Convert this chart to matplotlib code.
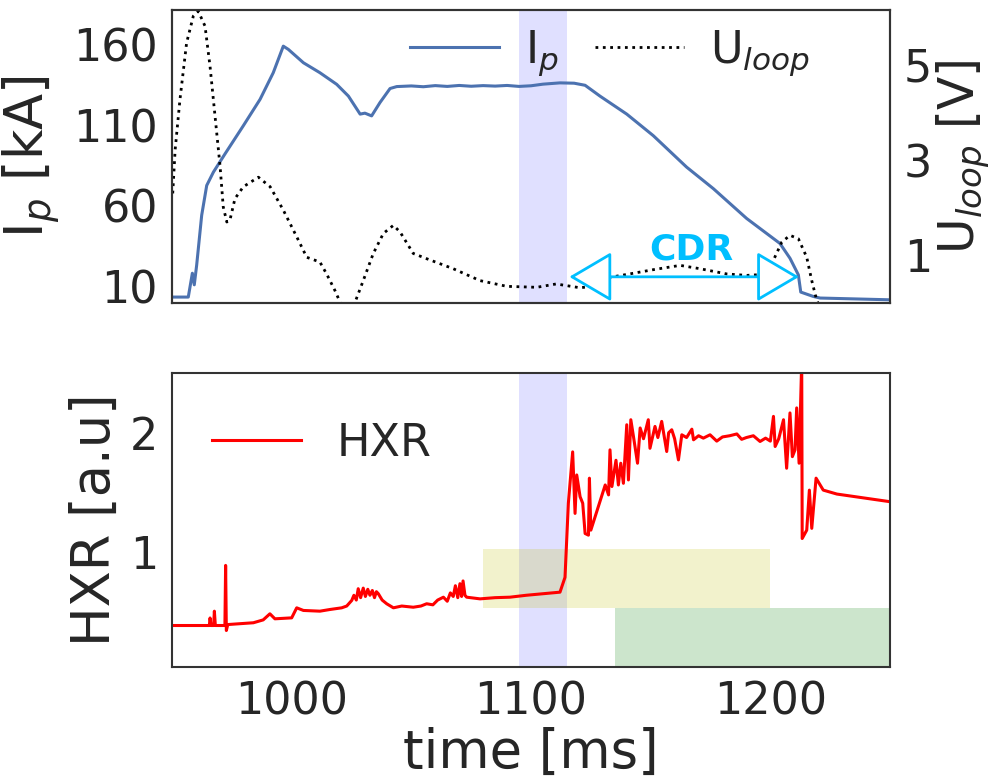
import numpy as np
import matplotlib.pyplot as plt

# plasma current I_p [kA]
t_ip = [950.3, 956.8, 958.5, 959.3, 960.3, 962.4, 964.5, 967.3, 972.1, 979.8,
        986.8, 992.3, 996.5, 998.6, 1004.9, 1011.8, 1018.8, 1023.7, 1028.6, 1030.6,
        1033.4, 1036.9, 1041.1, 1043.9, 1050, 1055, 1060, 1065, 1070, 1075,
        1080, 1085, 1090, 1095, 1100, 1105, 1112.1, 1118, 1122.6, 1128.8,
        1140, 1151.1, 1165, 1176.2, 1190.1, 1204, 1208.2, 1211.7, 1212.7, 1217.9,
        1220.8, 1250]
ip = [3.2, 3.2, 18, 10.8, 23, 54, 72.5, 80.8, 92, 109.6,
      126, 142.5, 159, 157, 148.7, 142.5, 135.3, 128, 116.8, 117.4,
      115.7, 124, 132.7, 133.9, 134.3, 133.8, 134.5, 134.0, 134.6, 134.1,
      134.5, 134.2, 134.6, 134.0, 134.4, 135.4, 136.2, 136.0, 134.7, 128,
      116.8, 103.4, 83.9, 70.5, 52, 36.5, 27.3, 17, 6.3, 3.6,
      2.6, 1.5]

# loop voltage U_loop [V]
t_u = [950.3, 951.3, 953.3, 956.1, 958.9, 961.0, 963.8, 965.9, 968.0, 970.1,
       971.4, 972.9, 974.2, 976.3, 979.8, 986.1, 991.0, 996.5, 1002.1, 1006.3,
       1011.8, 1014.6, 1018.1, 1020.2, 1022.5, 1026.5, 1029.9, 1034.1, 1038.3, 1042.5,
       1045.3, 1050.8, 1056.4, 1067.5, 1078.7, 1089.9, 1102.4, 1110.5, 1120.5, 1128.8,
       1133.0, 1140.0, 1151.1, 1162.3, 1170.6, 1181.8, 1190.1, 1197.1, 1201.2, 1204.8,
       1208.2, 1211.7, 1215.2, 1217.3, 1219.4, 1221.0]
u_loop = [2.30, 3.21, 4.26, 5.46, 6.02, 6.12, 5.81, 4.96, 3.91, 2.86,
          2.02, 1.70, 1.74, 2.19, 2.44, 2.64, 2.44, 1.95, 1.39, 0.96,
          0.86, 0.61, 0.26, 0.02, -0.3, 0.02, 0.47, 1.04, 1.46, 1.63,
          1.49, 1.04, 0.93, 0.72, 0.47, 0.35, 0.33, 0.40, 0.32, 0.37,
          0.54, 0.60, 0.70, 0.79, 0.72, 0.61, 0.58, 0.60, 0.89, 1.28,
          1.42, 1.35, 0.96, 0.47, 0.05, -0.1]

# hard x-ray signal [a.u]
t_hxr = [950.3, 965.6, 965.9, 966.3, 967.4, 967.7, 968.1, 972.1, 972.4, 972.7,
         973.3, 984.0, 988.1, 990.9, 993.0, 1000.0, 1002.1, 1004.9, 1011.8, 1016.0,
         1020.9, 1023.0, 1025.1, 1026.0, 1027.0, 1027.8, 1028.8, 1029.9, 1030.8, 1031.8,
         1032.7, 1033.7, 1034.6, 1035.4, 1036.2, 1037.8, 1039.7, 1042.5, 1046.0, 1050.8,
         1054.0, 1056.4, 1059.0, 1061.0, 1063.4, 1065.0, 1066.3, 1067.5, 1068.4, 1069.4,
         1070.3, 1071.0, 1071.6, 1072.4, 1073.1, 1078.7, 1085.0, 1091.2, 1098.0, 1105.1,
         1112.1, 1114.2, 1115.6, 1117.4, 1118.4, 1119.1, 1120.5, 1121.6, 1122.6, 1124.0,
         1124.4, 1125.0, 1131.0, 1132.4, 1133.0, 1133.8, 1135.5, 1136.5, 1137.5, 1138.6,
         1140.0, 1140.7, 1141.7, 1142.8, 1144.5, 1145.6, 1147.0, 1149.0, 1149.7, 1151.8,
         1153.0, 1154.6, 1156.7, 1157.5, 1158.8, 1160.0, 1161.6, 1163.0, 1165.0, 1167.2,
         1167.9, 1170.0, 1172.0, 1174.8, 1177.6, 1180.0, 1183.0, 1186.0, 1188.0, 1190.0,
         1192.9, 1195.7, 1198.0, 1200.0, 1201.3, 1202.0, 1203.5, 1205.5, 1206.8, 1208.2,
         1209.2, 1210.3, 1211.0, 1212.0, 1213.1, 1213.3, 1215.2, 1216.3, 1217.3, 1219.1,
         1222.1, 1227.8, 1250.0]
hxr = [0.387, 0.387, 0.45, 0.387, 0.387, 0.507, 0.387, 0.387, 0.89, 0.345,
       0.395, 0.41, 0.434, 0.485, 0.443, 0.451, 0.535, 0.513, 0.507, 0.521,
       0.535, 0.55, 0.597, 0.64, 0.60, 0.695, 0.62, 0.70, 0.63, 0.69,
       0.64, 0.68, 0.62, 0.67, 0.653, 0.60, 0.569, 0.535, 0.55, 0.54,
       0.55, 0.569, 0.56, 0.60, 0.624, 0.59, 0.66, 0.63, 0.72, 0.62,
       0.737, 0.63, 0.76, 0.64, 0.624, 0.61, 0.62, 0.624, 0.64, 0.653,
       0.666, 0.79, 1.41, 1.84, 1.325, 1.647, 1.465, 1.41, 1.157, 1.143,
       1.62, 1.185, 1.563, 1.48, 1.857, 1.55, 1.77, 1.563, 1.745, 1.577,
       2.067, 1.605, 2.109, 1.969, 1.745, 2.04, 1.95, 2.109, 1.87, 2.053,
       1.96, 2.095, 1.843, 2.0, 2.025, 1.95, 1.773, 1.983, 1.96, 2.03,
       1.941, 1.975, 1.955, 1.983, 1.93, 1.965, 1.975, 1.99, 1.945, 1.96,
       1.975, 1.927, 1.955, 1.93, 2.137, 1.885, 1.95, 2.109, 1.703, 2.166,
       1.80, 1.857, 2.208, 1.745, 2.6, 1.115, 1.185, 1.52, 1.2, 1.62,
       1.52, 1.487, 1.423]

blue_span = (1095, 1115)
yellow_span = (1080, 1200)
green_span = (1135, 1250)
cdr_span = (1116, 1212)

plt.rcParams['font.family'] = 'DejaVu Sans'
plt.rcParams['text.color'] = '#262626'
plt.rcParams['axes.labelcolor'] = '#262626'
plt.rcParams['xtick.color'] = '#262626'
plt.rcParams['ytick.color'] = '#262626'

fig = plt.figure(figsize=(9.96, 7.81), dpi=100)
ax = fig.add_axes([0.1727, 0.612, 0.7209, 0.3753])
ax2 = ax.twinx()
ax3 = fig.add_axes([0.1727, 0.146, 0.7209, 0.3764])

l1, = ax.plot(t_ip, ip, color='#4C72B0', lw=2.2, label='I$_p$')
l2, = ax2.plot(t_u, u_loop, 'k:', lw=2, label='U$_{loop}$')
ax.axvspan(*blue_span, color='b', alpha=0.12, lw=0)
ax.set_xlim(950, 1250)
ax.set_ylim(-0.5, 181.5)
ax2.set_ylim(0, 6.15)
ax.set_yticks([10, 60, 110, 160])
ax2.set_yticks([1, 3, 5])
ax.set_xticks([])
ax.set_ylabel('I$_p$ [kA]', fontsize=38)
ax2.set_ylabel('U$_{loop}$ [V]', fontsize=35)
ax.yaxis.set_label_coords(-0.152, 0.5)
ax2.yaxis.set_label_coords(1.062, 0.5)
ax2.legend([l1, l2], ['I$_p$', 'U$_{loop}$'], ncol=2, frameon=False, fontsize=32,
           loc='upper right', bbox_to_anchor=(0.945, 1.075), columnspacing=0.8,
           handletextpad=0.6)

ax2.annotate('', xy=(cdr_span[0], 0.55), xytext=(cdr_span[1], 0.55),
             arrowprops=dict(arrowstyle='<|-|>,head_length=0.85,head_width=0.5',
                             fc='white', ec='#00BFFF', lw=2, mutation_scale=32,
                             shrinkA=0, shrinkB=0))
ax2.text(1167, 1.12, 'CDR', color='#00BFFF', fontsize=26,
         fontweight='bold', ha='center', va='center')

ax3.plot(t_hxr, hxr, color='r', lw=2.2, label='HXR')
ax3.axvspan(*blue_span, color='b', alpha=0.12, lw=0)
ax3.axvspan(*yellow_span, ymin=0.2, ymax=0.4, color='y', alpha=0.2, lw=0)
ax3.axvspan(*green_span, ymin=0.0, ymax=0.2, color='g', alpha=0.2, lw=0)
ax3.set_xlim(950, 1250)
ax3.set_ylim(0.04, 2.5)
ax3.set_yticks([1, 2])
ax3.set_xticks([1000, 1100, 1200])
ax3.set_ylabel('HXR [a.u]', fontsize=38)
ax3.yaxis.set_label_coords(-0.071, 0.5)
ax3.set_xlabel('time [ms]', fontsize=38, labelpad=2)
ax3.legend(loc='upper left', frameon=False, fontsize=32, bbox_to_anchor=(0.0, 0.97))

for a in (ax, ax2, ax3):
    a.tick_params(length=0, labelsize=32, pad=10)
    for s in a.spines.values():
        s.set_color('#333333')
        s.set_linewidth(1.5)

fig.savefig('out.png', dpi=100)
